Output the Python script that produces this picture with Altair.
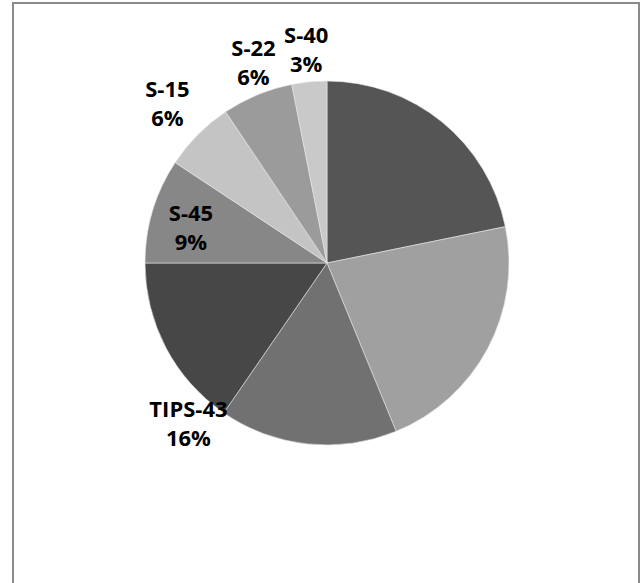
import altair as alt
import pandas as pd

# ---- data ----
names = ["Series A", "Series B", "Series C", "TIPS-43", "S-45", "S-15", "S-22", "S-40"]
values = [21.8, 22.0, 15.8, 15.4, 9.3, 6.3, 6.3, 3.1]
pct_labels = ["22%", "22%", "16%", "16%", "9%", "6%", "6%", "3%"]
colors = ["#555555", "#a0a0a0", "#717171", "#474747", "#878787", "#c4c4c4", "#9b9b9b", "#c9c9c9"]

df = pd.DataFrame({
    "name": names,
    "value": values,
    "pct": pct_labels,
    "idx": list(range(len(names))),
})

CX, CY, R = 327, 263, 182
FONT = "Open Sans"
LH = 29

base = alt.Chart(df)

arcs = base.mark_arc(radius=R, stroke="#e6e6e6", strokeWidth=0.6).encode(
    theta=alt.Theta("value:Q", stack=True),
    color=alt.Color("name:N", scale=alt.Scale(domain=names, range=colors), legend=None),
    order=alt.Order("idx:Q"),
    x=alt.value(CX),
    y=alt.value(CY),
)


def label(name, r, dx, dy):
    return base.transform_calculate(
        txt=f"datum.name === '{name}' ? [datum.name, datum.pct] : ''"
    ).mark_text(
        radius=r, dx=dx, dy=dy - LH / 2, font=FONT, fontSize=22, fontWeight="bold",
        color="#000000", lineHeight=LH, align="center", baseline="middle",
    ).encode(
        theta=alt.Theta("value:Q", stack=True),
        order=alt.Order("idx:Q"),
        text=alt.Text("txt:N"),
        x=alt.value(CX),
        y=alt.value(CY),
    )


labels = [
    label("S-45", 140, -2, 6),
    label("S-15", 225, 0, 0),
    label("S-22", 213, 8, -3),
    label("S-40", 214, 0, 0),
    label("TIPS-43", 213, 50, 62),
]

border = alt.Chart(alt.Data(values=[{"k": 1}])).mark_rect(
    fillOpacity=0, stroke="#8a8a8a", strokeWidth=2
).encode(
    x=alt.value(13), x2=alt.value(639), y=alt.value(3), y2=alt.value(640)
)

chart = alt.layer(border, arcs, *labels).properties(
    width=644, height=583, autosize=alt.AutoSizeParams(type="none"), padding=0
).configure_view(strokeOpacity=0)

chart.save("out.html", embed_options={"renderer": "svg", "actions": False})
